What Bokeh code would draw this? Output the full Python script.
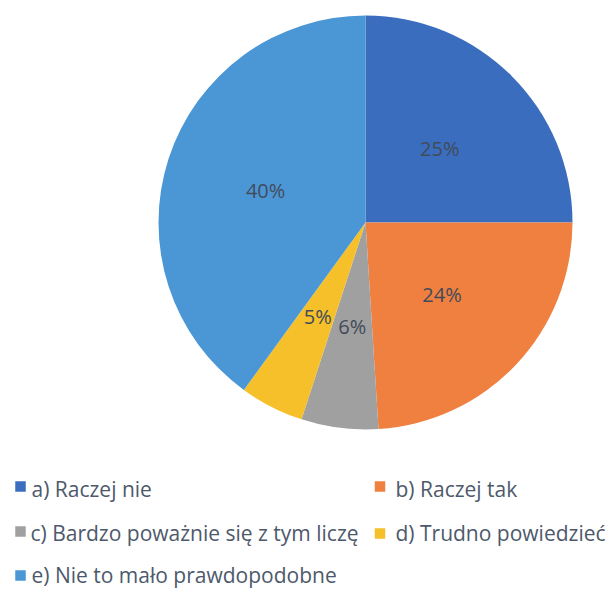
import math
from bokeh.plotting import figure
from bokeh.models import Range1d, ColumnDataSource
from bokeh.core.properties import value
from bokeh.embed import file_html
from bokeh.resources import INLINE

# ---- data ----
categories = ["a) Raczej nie", "b) Raczej tak", "c) Bardzo poważnie się z tym liczę",
              "d) Trudno powiedzieć", "e)  Nie to mało prawdopodobne"]
percent = [25, 24, 6, 5, 40]
pct_labels = ["25%", "24%", "6%", "5%", "40%"]
colors = ["#3A6DBE", "#F08040", "#A0A0A0", "#F6C02A", "#4B97D6"]

W, H = 610, 589
p = figure(width=W, height=H, output_backend="svg", toolbar_location=None,
           x_range=Range1d(0, W), y_range=Range1d(0, H), min_border=0)
p.axis.visible = False
p.grid.visible = False
p.outline_line_color = None
p.background_fill_color = "white"

cx, cy, R = 365, H - 222, 207
total = sum(percent)
starts, ends, lx, ly = [], [], [], []
acc = 0.0
for v in percent:
    a0 = math.pi / 2 - 2 * math.pi * acc / total
    a1 = math.pi / 2 - 2 * math.pi * (acc + v) / total
    starts.append(a0)
    ends.append(a1)
    mid = (a0 + a1) / 2
    lx.append(cx + 105 * math.cos(mid))
    ly.append(cy + 105 * math.sin(mid))
    acc += v

src = ColumnDataSource(dict(start=starts, end=ends, color=colors,
                            lx=lx, ly=ly, lab=pct_labels))
p.wedge(x=cx, y=cy, radius=R, start_angle="start", end_angle="end",
        direction="clock", fill_color="color", line_color=None, source=src)
p.text(x="lx", y="ly", text="lab", source=src, text_align="center",
       text_baseline="middle", text_font=value("Open Sans"), text_font_size="20px",
       text_color="#414B5A")

# legend (drawn manually, page coordinates)
sq_x = [20, 379.5, 20, 379.5, 20]
sq_y = [486, 486, 531, 533, 575]
tx_x = [31, 395, 30, 395, 31]
base_y = [488, 488, 532, 532, 574]
leg_src = ColumnDataSource(dict(
    sx=sq_x, sy=[H - y for y in sq_y],
    tx=tx_x, ty=[H - y for y in base_y],
    color=colors, lab=categories))
p.rect(x="sx", y="sy", width=10.5, height=10.5, fill_color="color", line_color=None,
       source=leg_src)
p.text(x="tx", y="ty", text="lab", source=leg_src, text_align="left",
       text_baseline="alphabetic", text_font=value("Open Sans"), text_font_size="21px",
       text_color="#4D596B")

open("out.html", "w").write(file_html(p, INLINE))
